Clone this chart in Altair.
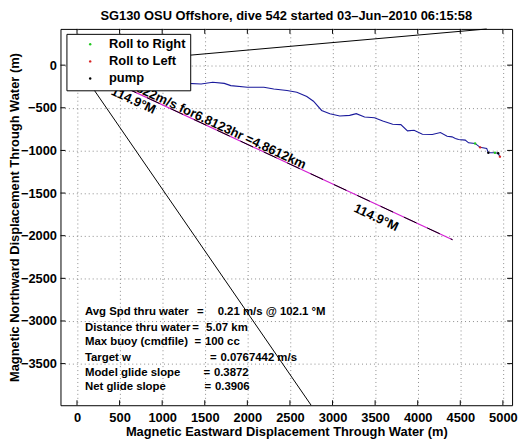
import altair as alt
import pandas as pd

FONT = "Liberation Sans"

# ---- data ----
# glider displacement through water (m)
track_east = [0, 400, 800, 1100, 1302, 1457, 1593, 1729, 1806, 2000, 2194, 2310,
              2465, 2581, 2698, 2776, 2872, 2969, 3085, 3201, 3279, 3376, 3492,
              3590, 3706, 3802, 3880, 3957, 4055, 4171, 4267, 4345, 4403, 4442,
              4480, 4558, 4597, 4674, 4733, 4810, 4829, 4907, 4945, 4965]
track_north = [0, -90, -160, -200, -214, -221, -200, -214, -240, -260, -260, -279,
               -298, -318, -368, -423, -531, -569, -597, -589, -569, -609, -616,
               -655, -693, -697, -771, -763, -810, -813, -790, -833, -841, -859,
               -871, -879, -911, -918, -964, -976, -1027, -1027, -1034, -1073]

# roll / pump events
roll_east = [4674, 4907, 4733, 4965, 4829, 4945]
roll_north = [-918, -1027, -964, -1073, -1027, -1034]
roll_kind = ["Roll to Right", "Roll to Right", "Roll to Left", "Roll to Left", "pump", "pump"]
roll_order = ["Roll to Right", "Roll to Left", "pump"]
roll_colors = ["#22c822", "#d82222", "#000000"]

# course made good line (114.9 deg M, 4.8612 km)
course_east = [0, 4409]
course_north = [0, -2047]

# two reference direction lines from the origin (to where they leave the plot)
ref1_east = [0, 4810]
ref1_north = [0, 424]
ref2_east = [0, 2748]
ref2_north = [0, -3987]

x_ticks = [0, 500, 1000, 1500, 2000, 2500, 3000, 3500, 4000, 4500, 5000]
y_ticks = [-3500, -3000, -2500, -2000, -1500, -1000, -500, 0]

course_text = ["0.19822m/s for6.8123hr =4.8612km"]
course_text_east = [1540]
course_text_north = [-700]
heading_text = ["114.9°M", "114.9°M"]
heading_text_east = [663, 3512]
heading_text_north = [-415, -1789]

summary_names = ["Avg Spd thru water", "Distance thru water", "Max buoy (cmdfile)",
                 "Target w", "Model glide slope", "Net glide slope"]
summary_values = ["0.21 m/s @ 102.1  °M", "5.07 km", "100 cc", "0.0767442 m/s",
                  "0.3872", "0.3906"]
summary_north = [-2900, -3078, -3252, -3434, -3608, -3775]
summary_name_east = [93, 93, 93, 93, 93, 93]
summary_eq_east = [1410, 1352, 1380, 1562, 1485, 1497]
summary_val_east = [1651, 1515, 1502, 1684, 1607, 1619]

title_text = ["SG130 OSU Offshore, dive 542 started 03–Jun–2010 06:15:58"]

# ---- chart ----
W, H = 456, 380
x_scale = alt.Scale(domain=[-194, 5108], nice=False, zero=False)
y_scale = alt.Scale(domain=[-3988, 425], nice=False, zero=False)
x_axis = alt.Axis(values=x_ticks, grid=True, ticks=False, tickSize=0, domain=False,
                  labelPadding=6, format="d",
                  title="Magnetic Eastward Displacement Through Water (m)",
                  titleX=W / 2, titleY=26.3, titleBaseline="middle", titleAlign="center")
y_axis = alt.Axis(values=y_ticks, grid=True, ticks=False, tickSize=0, domain=False,
                  labelPadding=4, format="d",
                  title="Magnetic Northward Displacement Through Water (m)",
                  titleX=-46.5, titleY=H / 2, titleAngle=270, titleBaseline="middle",
                  titleAlign="center")


def X(f):
    return alt.X(f, type="quantitative", scale=x_scale, axis=x_axis)


def Y(f):
    return alt.Y(f, type="quantitative", scale=y_scale, axis=y_axis)


course_df = pd.DataFrame({"e": course_east, "n": course_north, "o": [0, 1]})
course_m = alt.Chart(course_df).mark_line(color="#d21ed2", strokeWidth=1.2).encode(
    x=X("e"), y=Y("n"), order="o:Q")
course_k = alt.Chart(course_df).mark_line(color="black", strokeWidth=1,
                                          strokeDash=[14, 12]).encode(
    x=X("e"), y=Y("n"), order="o:Q")

ref1 = alt.Chart(pd.DataFrame({"e": ref1_east, "n": ref1_north, "o": [0, 1]})).mark_line(
    color="black", strokeWidth=1).encode(x=X("e"), y=Y("n"), order="o:Q")
ref2 = alt.Chart(pd.DataFrame({"e": ref2_east, "n": ref2_north, "o": [0, 1]})).mark_line(
    color="black", strokeWidth=1).encode(x=X("e"), y=Y("n"), order="o:Q")

track = alt.Chart(pd.DataFrame({"e": track_east, "n": track_north,
                                "o": list(range(len(track_east)))})).mark_line(
    color="#1a1a9c", strokeWidth=1.1).encode(x=X("e"), y=Y("n"), order="o:Q")

legend = alt.Legend(title=None, orient="none", legendX=6, legendY=5,
                    fillColor="white", strokeColor="black", padding=4, rowPadding=3.3,
                    symbolOffset=13.5, labelOffset=12.5, labelFont=FONT, labelFontSize=13,
                    labelFontWeight="bold", labelColor="black", symbolSize=6,
                    symbolStrokeWidth=0, symbolType="circle", labelLimit=0)
rolls = alt.Chart(pd.DataFrame({"e": roll_east, "n": roll_north, "k": roll_kind})).mark_circle(
    size=6, opacity=1).encode(
    x=X("e"), y=Y("n"),
    color=alt.Color("k:N", scale=alt.Scale(domain=roll_order, range=roll_colors),
                    legend=legend, sort=roll_order))

txt_style = dict(font=FONT, fontSize=13, fontWeight="bold", color="black")
course_lbl = alt.Chart(pd.DataFrame({"e": course_text_east, "n": course_text_north,
                                     "t": course_text})).mark_text(
    angle=24.9, align="center", baseline="alphabetic", **txt_style).encode(
    x=X("e"), y=Y("n"), text="t:N")
heading_lbl = alt.Chart(pd.DataFrame({"e": heading_text_east, "n": heading_text_north,
                                      "t": heading_text})).mark_text(
    angle=24.9, align="center", baseline="middle", **txt_style).encode(
    x=X("e"), y=Y("n"), text="t:N")

sum_style = dict(font=FONT, fontSize=11.5, fontWeight="bold", color="black",
                 align="left", baseline="middle")
summary_df = pd.DataFrame({"n": summary_north, "e1": summary_name_east,
                           "e2": summary_eq_east, "e3": summary_val_east,
                           "name": summary_names, "eq": ["="] * len(summary_names),
                           "val": summary_values})
sum_name = alt.Chart(summary_df).mark_text(**sum_style).encode(x=X("e1"), y=Y("n"), text="name:N")
sum_eq = alt.Chart(summary_df).mark_text(**sum_style).encode(x=X("e2"), y=Y("n"), text="eq:N")
sum_val = alt.Chart(summary_df).mark_text(**sum_style).encode(x=X("e3"), y=Y("n"), text="val:N")

title = alt.Chart(pd.DataFrame({"t": title_text})).mark_text(
    align="center", baseline="alphabetic", **txt_style).encode(
    x=alt.value(W / 2), y=alt.value(-9), text="t:N")

xt = pd.DataFrame({"v": x_ticks})
yt = pd.DataFrame({"v": y_ticks})
tick_style = dict(color="black", strokeWidth=1)
tb = alt.Chart(xt).mark_rule(**tick_style).encode(x=X("v"), y=alt.value(H), y2=alt.value(H - 5))
tt = alt.Chart(xt).mark_rule(**tick_style).encode(x=X("v"), y=alt.value(0), y2=alt.value(5))
tl = alt.Chart(yt).mark_rule(**tick_style).encode(y=Y("v"), x=alt.value(0), x2=alt.value(5))
tr = alt.Chart(yt).mark_rule(**tick_style).encode(y=Y("v"), x=alt.value(W), x2=alt.value(W - 5))

chart = alt.layer(
    course_m, course_k, ref1, ref2, track, rolls,
    course_lbl, heading_lbl, sum_name, sum_eq, sum_val, title,
    tb, tt, tl, tr,
).properties(
    width=W, height=H,
    padding={"left": 53, "top": 19, "right": 8, "bottom": 33},
    autosize=alt.AutoSizeParams(type="none"),
).configure_view(
    stroke="black", strokeWidth=1
).configure_axis(
    labelFont=FONT, labelFontSize=13, labelFontWeight="bold", labelColor="black",
    titleFont=FONT, titleFontSize=13, titleFontWeight="bold", titleColor="black",
    gridColor="#8c8c8c", gridDash=[1, 3], gridOpacity=1, gridWidth=1,
)

chart.save("out.html", embed_options={"renderer": "svg", "actions": False})
